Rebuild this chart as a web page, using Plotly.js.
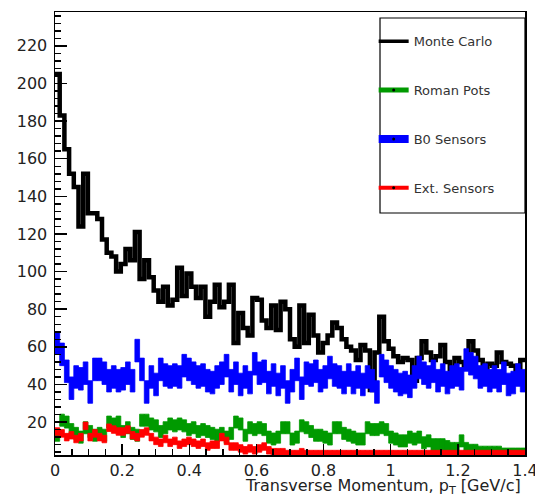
<!DOCTYPE html>
<html>
<head>
<meta charset="utf-8">
<script src="https://cdn.plot.ly/plotly-3.0.1.min.js"></script>
<style>
  html, body { margin: 0; padding: 0; background: #fff; }
  #chart { width: 535px; height: 496px; }
</style>
</head>
<body>
<div id="chart"></div>
<script>
// Transverse momentum spectra: 100 bins from 0 to 1.4 GeV/c
const binLow = 0;
const binHigh = 1.4;
const nBins = 100;

const xTickLabels = ['0', '0.2', '0.4', '0.6', '0.8', '1', '1.2', '1.4'];

const monteCarlo = [
  205, 183, 165, 152, 145, 124, 152, 131, 131, 128,
  117, 110, 108, 100, 104, 112, 106, 121, 96, 106,
  97, 90, 84, 92, 82, 85, 102, 87, 99, 92,
  86, 92, 76, 84, 93, 81, 84, 93, 62, 78,
  70, 66, 86, 85, 74, 70, 82, 69, 84, 80,
  64, 60, 82, 62, 77, 66, 57, 62, 66, 73,
  70, 64, 60, 58, 53, 61, 58, 37, 57, 76,
  63, 59, 55, 52, 54, 53, 42, 54, 63, 57,
  53, 55, 61, 52, 48, 54, 52, 50, 63, 58,
  53, 48, 51, 50, 57, 52, 51, 50, 46, 53
];

const romanPots = [
  13, 21, 20, 16, 14, 12, 17, 15, 13, 14,
  13, 20, 19, 20, 15, 17, 14, 13, 21, 21,
  19, 18, 15, 17, 19, 18, 19, 18, 16, 17,
  15, 16, 15, 14, 13, 14, 12, 14, 20, 19,
  13, 17, 16, 17, 16, 12, 11, 12, 17, 17,
  11, 12, 18, 17, 15, 13, 13, 12, 11, 17,
  17, 14, 13, 12, 11, 11, 17, 16, 16, 17,
  16, 12, 11, 10, 10, 12, 11, 12, 9, 10,
  8, 8, 8, 7, 6, 6, 10, 6, 5, 5,
  4, 4, 4, 4, 4, 3, 3, 3, 3, 3
];

const b0Sensors = [
  62, 56, 47, 38, 44, 43, 46, 36, 48, 48,
  46, 42, 44, 42, 43, 46, 42, 58, 48, 36,
  44, 40, 48, 45, 44, 45, 44, 50, 48, 46,
  44, 45, 42, 41, 44, 46, 50, 42, 46, 40,
  44, 41, 51, 46, 47, 41, 45, 40, 44, 36,
  42, 48, 38, 46, 45, 47, 42, 44, 49, 45,
  44, 41, 45, 41, 44, 40, 44, 42, 36, 50,
  47, 44, 42, 40, 41, 39, 44, 49, 46, 44,
  47, 42, 45, 41, 44, 45, 43, 53, 51, 49,
  44, 45, 42, 44, 42, 46, 40, 41, 45, 42
];

const extSensors = [
  15, 14, 12, 13, 11, 12, 18, 12, 14, 12,
  11, 17, 16, 15, 15, 16, 13, 12, 14, 15,
  12, 10, 9, 11, 9, 10, 8, 9, 10, 9,
  8, 9, 7, 8, 8, 12, 10, 7, 7, 6,
  5, 6, 5, 6, 7, 5, 4, 4, 4, 3,
  3, 3, 4, 3, 3, 3, 3, 3, 3, 3,
  3, 3, 3, 3, 3, 3, 3, 3, 3, 3,
  3, 3, 3, 3, 3, 3, 3, 3, 3, 3,
  3, 3, 3, 3, 3, 3, 3, 3, 3, 3,
  3, 3, 3, 3, 3, 3, 3, 3, 3, 3
];

const seriesNames = ['Monte Carlo', 'Roman Pots', 'B0 Sensors', 'Ext. Sensors'];
const seriesColors = ['#000000', '#009a00', '#0000ff', '#ff0000'];

const binWidth = (binHigh - binLow) / nBins;
const edge = i => binLow + i * binWidth;

// Histogram outline drawn as a step line over the bin edges
function stepTrace(values) {
  const xs = [], ys = [];
  values.forEach((v, i) => {
    xs.push(edge(i), edge(i + 1));
    ys.push(v, v);
  });
  return { x: xs, y: ys };
}

// Per-bin filled boxes (value +/- half) drawn as separate filled polygons
function bandTrace(values, half) {
  const xs = [], ys = [];
  values.forEach((v, i) => {
    const a = edge(i), b = edge(i + 1);
    xs.push(a, b, b, a, a, null);
    ys.push(v - half, v - half, v + half, v + half, v - half, null);
  });
  return { x: xs, y: ys };
}

const mcStep = stepTrace(monteCarlo);
const traces = [
  {
    type: 'scatter', mode: 'lines', x: mcStep.x, y: mcStep.y,
    line: { color: seriesColors[0], width: 4.5 },
    showlegend: false, hoverinfo: 'skip'
  }
];

const bandSeries = [
  { vals: b0Sensors, half: 6, color: seriesColors[2] },
  { vals: romanPots, half: 3.2, color: seriesColors[1] },
  { vals: extSensors, half: 2, color: seriesColors[3] }
];
bandSeries.forEach(s => {
  const t = bandTrace(s.vals, s.half);
  traces.push({
    type: 'scatter', mode: 'lines', x: t.x, y: t.y,
    fill: 'toself', fillcolor: s.color,
    line: { color: s.color, width: 0.8 },
    connectgaps: false, showlegend: false, hoverinfo: 'skip'
  });
});

// Legend entries
const legendWidths = [3.5, 5, 8, 4];
seriesNames.forEach((name, k) => {
  traces.push({
    type: 'scatter', mode: k === 0 ? 'lines' : 'lines+markers',
    x: [null], y: [null], name: name,
    legendgroup: 'g' + k, legendrank: k + 1,
    line: { color: seriesColors[k], width: legendWidths[k] },
    marker: { color: '#000', size: 3 }
  });
});

const tickFont = { family: 'DejaVu Sans, sans-serif', size: 16, color: '#222' };

const layout = {
  width: 535, height: 496,
  margin: { l: 55, r: 10, t: 12, b: 41 },
  paper_bgcolor: '#fff', plot_bgcolor: '#fff',
  showlegend: true,
  legend: {
    x: 0.678, y: 0.968, xanchor: 'left', yanchor: 'top',
    bgcolor: 'rgba(0,0,0,0)', borderwidth: 0,
    tracegroupgap: 29, itemwidth: 30,
    font: { family: 'DejaVu Sans, sans-serif', size: 13, color: '#333' }
  },
  xaxis: {
    range: [binLow, binHigh],
    tickmode: 'array', tickvals: xTickLabels.map(Number), ticktext: xTickLabels,
    ticklabeloverflow: 'allow',
    ticks: 'inside', ticklen: 11, tickwidth: 1.5, tickcolor: '#000',
    minor: { tick0: 0, dtick: 0.05, ticks: 'inside', ticklen: 6, tickwidth: 1.5, tickcolor: '#000' },
    showline: true, linecolor: '#000', linewidth: 1.5, mirror: true,
    showgrid: false, zeroline: false, tickfont: tickFont, ticklabelstandoff: 0
  },
  yaxis: {
    range: [2.5, 238], tick0: 0, dtick: 20,
    ticks: 'inside', ticklen: 12, tickwidth: 1.5, tickcolor: '#000',
    minor: { dtick: 4, ticks: 'inside', ticklen: 6, tickwidth: 1.5, tickcolor: '#000' },
    showline: true, linecolor: '#000', linewidth: 1.5, mirror: true,
    showgrid: false, zeroline: false, tickfont: tickFont, ticklabelstandoff: 3
  },
  shapes: [{
    type: 'rect', xref: 'paper', yref: 'paper',
    x0: 0.6915, x1: 1.0, y0: 0.5463, y1: 0.9865,
    line: { color: '#000', width: 1.2 }, layer: 'below'
  }],
  annotations: [{
    xref: 'paper', yref: 'paper', x: 0.994, y: -0.071,
    xanchor: 'right', yanchor: 'middle', showarrow: false, borderpad: 0,
    text: 'Transverse Momentum, p<sub>T</sub> [GeV/c]',
    font: { family: 'DejaVu Sans, sans-serif', size: 16, color: '#222' }
  }]
};

Plotly.newPlot('chart', traces, layout, { staticPlot: true, displayModeBar: false });
</script>
</body>
</html>
